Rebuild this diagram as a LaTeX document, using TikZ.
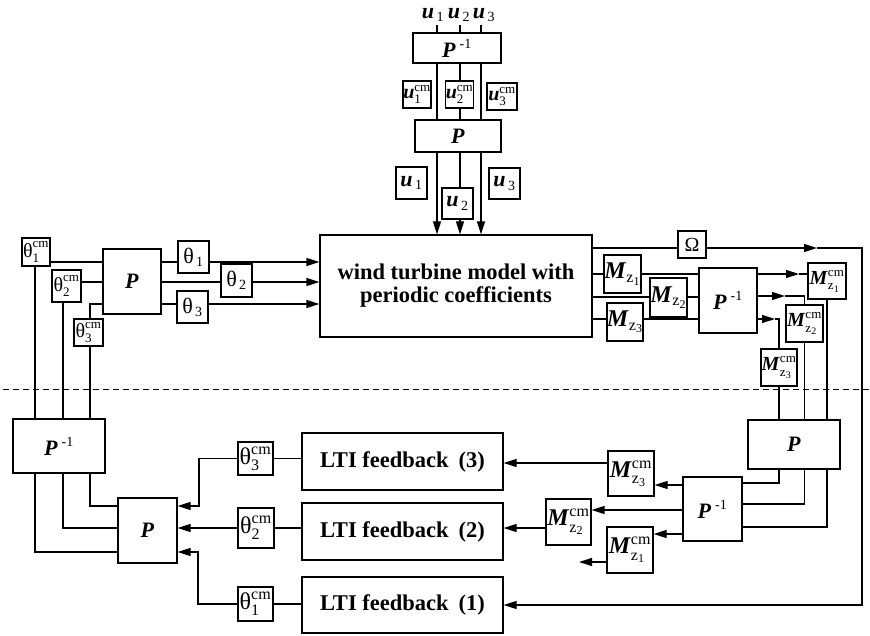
\documentclass[tikz,border=0pt]{standalone}
\usepackage{fontspec}
\setmainfont{Liberation Serif}
\usepackage{amsmath}
\usetikzlibrary{arrows.meta,backgrounds}
\DeclareMathSizes{20}{20}{13}{10}
\DeclareMathSizes{22}{22}{14}{11}
\DeclareMathSizes{24}{24}{16}{12}
\newcommand\bi[1]{\textbf{\textit{#1}}}
\newcommand\Pinv{$\text{\bi{P}}^{\;\text{-1}}$}
\newcommand\cmlab[2]{$\text{#1}^{\text{cm}}_{\text{#2}}$}
\newcommand\sublab[2]{$\text{#1}_{\,\text{#2}}$}
\newcommand\Mcm[1]{$\text{\bi{M}}^{\text{cm}}_{\text{z}_{\text{#1}}}$}
\newcommand\Mz[1]{$\text{\bi{M}}_{\text{z}_{\text{#1}}}$}
\tikzset{
  box/.style={draw, fill=white, line width=1.2pt, inner sep=0pt,
    font=\fontsize{20}{22}\selectfont},
  big/.style={font=\fontsize{22}{24}\selectfont},
  huge/.style={font=\fontsize{24}{26}\selectfont},
  title/.style={font=\fontsize{22.5}{23}\selectfont\bfseries, align=center},
  wire/.style={line width=1.2pt},
  arr/.style={wire, -{Triangle[length=13pt,width=8pt]}},
  sep/.style={line width=1pt, dash pattern=on 6pt off 4pt}
}
\begin{document}
\begin{tikzpicture}[x=1pt,y=-1pt]
\useasboundingbox (0,0) rectangle (870,636);

% ---------- upper half: plant with transforms ----------
\node[box, title, minimum width=272, minimum height=102] (M) at (456,286)
  {wind turbine model with\\periodic coefficients};

% blade input transforms
\node[big, inner sep=0pt] (ui1) at (433,15) {\sublab{\bi{u}}{1}};
\node[big, inner sep=0pt] (ui2) at (459,15) {\sublab{\bi{u}}{2}};
\node[big, inner sep=0pt] (ui3) at (484,15) {\sublab{\bi{u}}{3}};
\coordinate (c1) at (437,25);
\coordinate (c2) at (460,25);
\coordinate (c3) at (481,25);
\node[box, big, minimum width=88, minimum height=30] (PiT) at (457,48) {\Pinv};
\node[box, big, minimum width=86, minimum height=32] (PT) at (458,136) {\bi{P}};
\node[box, minimum width=28, minimum height=27] (u1c) at (417,94.5) {\cmlab{\bi{u}}{1}};
\node[box, minimum width=25, minimum height=27] (u2c) at (459.5,94.5) {\cmlab{\bi{u}}{2}};
\node[box, minimum width=30, minimum height=27] (u3c) at (502,96.5) {\cmlab{\bi{u}}{3}};
\node[box, big, minimum width=31, minimum height=32] (u1) at (411.5,183) {\sublab{\bi{u}}{1}};
\node[box, big, minimum width=31, minimum height=31] (u2) at (457.5,203.5) {\sublab{\bi{u}}{2}};
\node[box, big, minimum width=31, minimum height=31] (u3) at (504.5,183.5) {\sublab{\bi{u}}{3}};

% pitch transforms on the left
\coordinate (r1) at (0,262);
\coordinate (r2) at (0,282);
\coordinate (r3) at (0,304);
\coordinate (v1) at (35,0);
\coordinate (v2) at (63,0);
\coordinate (v3) at (90,0);
\node[box, minimum width=28, minimum height=28] (t1c) at (36,252) {\cmlab{θ}{1}};
\node[box, minimum width=29, minimum height=32] (t2c) at (66.5,286) {\cmlab{θ}{2}};
\node[box, minimum width=29, minimum height=27] (t3c) at (88.5,332.5) {\cmlab{θ}{3}};
\node[box, big, minimum width=58, minimum height=65] (PL) at (132,281.5) {\bi{P}};
\node[box, big, minimum width=31, minimum height=32] (t1) at (193.5,257) {\sublab{θ}{1}};
\node[box, big, minimum width=31, minimum height=33] (t2) at (236.5,280.5) {\sublab{θ}{2}};
\node[box, big, minimum width=31, minimum height=32] (t3) at (192.5,307) {\sublab{θ}{3}};

% outputs on the right
\coordinate (om) at (0,248);
\coordinate (tipO) at (817,248);
\coordinate (ve) at (862,0);
\coordinate (a1) at (0,274);
\coordinate (a2) at (0,297);
\coordinate (a3) at (0,319);
\coordinate (tip1) at (799,274);
\coordinate (tip2) at (785,296);
\coordinate (tip3) at (775,319);
\node[box, minimum width=28, minimum height=27] (Om) at (692,244.5) {Ω};
\node[box, huge, minimum width=37, minimum height=38] (Mz1) at (622.5,274) {\Mz{1}};
\node[box, huge, minimum width=37, minimum height=39] (Mz2) at (668.5,297.5) {\Mz{2}};
\node[box, huge, minimum width=36, minimum height=38] (Mz3) at (625,322) {\Mz{3}};
\node[box, big, minimum width=58, minimum height=65] (PiR) at (728,300.5) {\Pinv};
\node[box, minimum width=38, minimum height=36] (Mz1c) at (827,281) {\Mcm{1}};
\node[box, minimum width=37, minimum height=37] (Mz2c) at (804.5,323.5) {\Mcm{2}};
\node[box, minimum width=36, minimum height=37] (Mz3c) at (779,367.5) {\Mcm{3}};

% separator
\coordinate (dL) at (3,389);
\coordinate (dR) at (870,389);
\draw[sep] (dL) -- (dR);

% ---------- lower half: LTI controllers ----------
\node[box, big, minimum width=92, minimum height=49] (PR) at (794,444.5) {\bi{P}};
\node[box, big, minimum width=59, minimum height=64] (PiR2) at (712.5,509) {\Pinv};
\node[box, huge, minimum width=46, minimum height=45] (Mz3B) at (631,473.5) {\Mcm{3}};
\node[box, huge, minimum width=45, minimum height=46] (Mz2B) at (568.5,522) {\Mcm{2}};
\node[box, huge, minimum width=46, minimum height=46] (Mz1B) at (630,550) {\Mcm{1}};
\coordinate (b1) at (0,483);
\coordinate (b2) at (0,504);
\coordinate (b3) at (0,527);
\coordinate (e1) at (0,485);
\coordinate (e2) at (0,510);
\coordinate (e3) at (0,534);
\coordinate (f3) at (0,463);
\coordinate (f2) at (0,528);
\coordinate (fz) at (579,562);

\node[box, title, minimum width=201, minimum height=57] (L3) at (402.5,461.5) {LTI feedback\hspace{0.45em}(3)};
\node[box, title, minimum width=201, minimum height=57] (L2) at (402.5,531.5) {LTI feedback\hspace{0.45em}(2)};
\node[box, title, minimum width=201, minimum height=56] (L1) at (402.5,605) {LTI feedback\hspace{0.45em}(1)};

\node[box, big, minimum width=92, minimum height=54] (PiL) at (59,446) {\Pinv};
\node[box, big, minimum width=59, minimum height=65] (PB) at (147.5,530.5) {\bi{P}};
\node[box, huge, minimum width=35, minimum height=33] (t3B) at (255.5,458.5) {\cmlab{θ}{3}};
\node[box, huge, minimum width=36, minimum height=40] (t2B) at (256,528) {\cmlab{θ}{2}};
\node[box, huge, minimum width=35, minimum height=34] (t1B) at (255.5,604) {\cmlab{θ}{1}};
\coordinate (q1) at (0,552);
\coordinate (q2) at (0,528);
\coordinate (q3) at (0,506);
\coordinate (w3) at (199,0);
\coordinate (w1) at (198,0);

% ---------- wiring ----------
\begin{pgfonlayer}{background}
  % blade inputs
  \foreach \c in {c1,c2,c3} {
    \draw[wire] (\c) -- (\c |- PiT.north);
    \draw[wire] (\c |- PiT.south) -- (\c |- PT.north);
    \draw[arr] (\c |- PT.south) -- (\c |- M.north);
  }
  % pitch signals
  \draw[wire] (t1c.east |- r1) -- (PL.west |- r1);
  \draw[wire] (t2c.east |- r2) -- (PL.west |- r2);
  \draw[wire] (t3c.north -| v3) |- (PL.west |- r3);
  \draw[arr] (PL.east |- r1) -- (M.west |- r1);
  \draw[arr] (PL.east |- r2) -- (M.west |- r2);
  \draw[arr] (PL.east |- r3) -- (M.west |- r3);
  \draw[wire] (t1c.south -| v1) -- (v1 |- PiL.north);
  \draw[wire] (t2c.south -| v2) -- (v2 |- PiL.north);
  \draw[wire] (t3c.south -| v3) -- (v3 |- PiL.north);
  \draw[wire] (v1 |- PiL.south) |- (PB.west |- q1);
  \draw[wire] (v2 |- PiL.south) |- (PB.west |- q2);
  \draw[wire] (v3 |- PiL.south) |- (PB.west |- q3);
  % controller outputs
  \draw[arr] (t3B.west) -| (w3 |- q3) -- (PB.east |- q3);
  \draw[arr] (t2B.west) -- (PB.east |- t2B.west);
  \draw[arr] (t1B.west) -| (w1 |- q1) -- (PB.east |- q1);
  \draw[wire] (t3B.east) -- (L3.west |- t3B.east);
  \draw[wire] (t2B.east) -- (L2.west |- t2B.east);
  \draw[wire] (t1B.east) -- (L1.west |- t1B.east);
  % rotor speed
  \draw[wire] (M.east |- om) -- (Om.west |- om);
  \draw[arr] (Om.east |- om) -- (tipO);
  \draw[arr] (tipO) -- (ve |- om) -- (ve |- L1.east) -- (L1.east);
  % blade moments
  \draw[wire] (M.east |- a1) -- (PiR.west |- a1);
  \draw[wire] (M.east |- a2) -- (PiR.west |- a2);
  \draw[wire] (M.east |- a3) -- (PiR.west |- a3);
  \draw[arr] (PiR.east |- a1) -- (tip1);
  \draw[wire] (tip1) -- (Mz1c.west |- a1);
  \draw[arr] (PiR.east |- tip2) -- (tip2);
  \draw[wire] (tip2) -| (Mz2c.north);
  \draw[arr] (PiR.east |- a3) -- (tip3);
  \draw[wire] (tip3) -| (Mz3c.north);
  \draw[wire] (Mz1c.south) -- (Mz1c.south |- PR.north);
  \draw[wire] (Mz2c.south) -- (Mz2c.south |- PR.north);
  \draw[wire] (Mz3c.south) -- (Mz3c.south |- PR.north);
  \draw[wire] (Mz3c.south |- PR.south) |- (PiR2.east |- b1);
  \draw[wire] (Mz2c.south |- PR.south) |- (PiR2.east |- b2);
  \draw[wire] (Mz1c.south |- PR.south) |- (PiR2.east |- b3);
  \draw[arr] (PiR2.west |- e1) -- (Mz3B.east |- e1);
  \draw[arr] (PiR2.west |- e2) -- (Mz2B.east |- e2);
  \draw[arr] (PiR2.west |- e3) -- (Mz1B.east |- e3);
  \draw[arr] (Mz3B.west |- f3) -- (L3.east |- f3);
  \draw[arr] (Mz2B.west |- f2) -- (L2.east |- f2);
  \draw[arr] (Mz1B.west |- fz) -- (fz);
\end{pgfonlayer}
\end{tikzpicture}
\end{document}
